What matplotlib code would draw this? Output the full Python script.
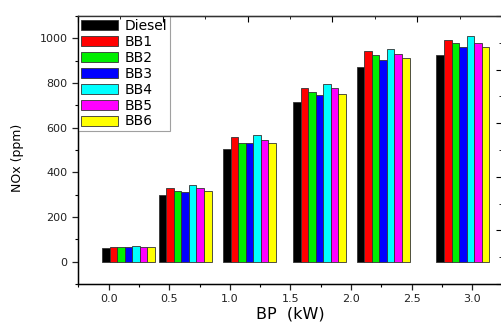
import numpy as np
import matplotlib.pyplot as plt
from matplotlib.ticker import MultipleLocator

plt.rcParams['font.family'] = ['DejaVu Sans']

# BP (kW) positions of the bar groups as drawn on the axis
bp = [0.165, 0.631, 1.162, 1.739, 2.263, 2.922]

fuels = ['Diesel', 'BB1', 'BB2', 'BB3', 'BB4', 'BB5', 'BB6']
colors = ['#000000', '#ff0000', '#00ee00', '#0000ff', '#00ffff', '#ff00ff', '#ffff00']

diesel = [62, 300, 505, 717, 870, 927]
bb1 = [67, 330, 557, 777, 945, 993]
bb2 = [65, 318, 532, 759, 927, 977]
bb3 = [64, 314, 530, 747, 905, 960]
bb4 = [68, 344, 569, 797, 954, 1010]
bb5 = [67, 329, 543, 778, 930, 980]
bb6 = [65, 317, 532, 751, 910, 963]
series = [diesel, bb1, bb2, bb3, bb4, bb5, bb6]

fig = plt.figure(figsize=(5.02, 3.22), dpi=100)
ax = fig.add_axes([78/502, 38/322, 424/502, 268/322])

w = 0.0624
x = np.array(bp)
for j, (name, vals, c) in enumerate(zip(fuels, series, colors)):
    ax.bar(x + (j - 3) * w, vals, width=w, color=c, edgecolor='#333333',
           linewidth=0.6, label=name)

ax.set_xlim(-0.252, 3.244)
ax.set_ylim(-100, 1100)
ax.xaxis.set_minor_locator(MultipleLocator(0.25))
ax.yaxis.set_major_locator(MultipleLocator(200))
ax.yaxis.set_minor_locator(MultipleLocator(100))
ax.set_xticks([0, 0.5, 1.0, 1.5, 2.0, 2.5, 3.0])
ax.set_xticklabels(['0.0', '0.5', '1.0', '1.5', '2.0', '2.5', '3.0'])
ax.tick_params(which='major', direction='out', length=4, width=0.9,
               labelsize=8, colors='#222222')
ax.tick_params(which='minor', direction='out', length=2.5, width=0.8)
ax.tick_params(axis='x', pad=3)

for s in ax.spines.values():
    s.set_linewidth(1.0)
    s.set_color('#333333')
ax.spines['right'].set_visible(False)

# secondary top / right axes with their own inward ticks
axt = ax.twiny()
axt.set_xlim(0, 1)
axt.xaxis.set_major_locator(MultipleLocator(0.2))
axt.xaxis.set_minor_locator(MultipleLocator(0.1))
axt.tick_params(axis='x', which='major', direction='in', length=4, labeltop=False)
axt.tick_params(axis='x', which='minor', direction='in', length=2.5)
axr = ax.twinx()
axr.set_ylim(0, 1)
axr.yaxis.set_major_locator(MultipleLocator(0.2))
axr.yaxis.set_minor_locator(MultipleLocator(0.1))
axr.tick_params(axis='y', which='major', direction='in', length=4, labelright=False)
axr.tick_params(axis='y', which='minor', direction='in', length=2.5)
for a in (axt, axr):
    a.spines['right'].set_visible(False)
    a.spines['top'].set_color('#333333')

ax.set_ylabel('NOx (ppm)', fontsize=9)
ax.yaxis.set_label_coords(-0.128, 0.47)
ax.set_xlabel('BP  (kW)', fontsize=11.5)
ax.xaxis.set_label_coords(0.5, -0.083)
ax.xaxis.label.set_va('top')

leg = ax.legend(loc='upper left', fontsize=10, frameon=True, fancybox=False,
                borderaxespad=0, handlelength=2.66, handleheight=0.72,
                labelspacing=0.14, handletextpad=0.5, borderpad=0.2)
leg.get_frame().set_edgecolor('#888888')
leg.get_frame().set_linewidth(0.8)
leg.set_zorder(5)

fig.savefig('out.png', dpi=100)
